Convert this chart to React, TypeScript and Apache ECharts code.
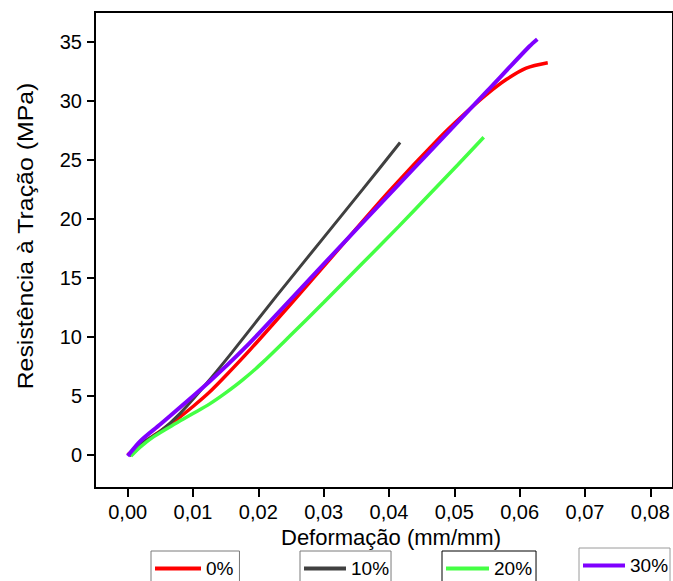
import React, { useEffect, useRef } from "react";
import * as echarts from "echarts";

// Data (strain mm/mm, stress MPa)
const strain0 = [0, 0.002, 0.005, 0.0075, 0.01, 0.0125, 0.015, 0.0189, 0.025, 0.031, 0.04, 0.048, 0.0522, 0.055, 0.058, 0.061, 0.0643];
const stress0 = [0, 0.9, 2.0, 3.0, 4.1, 5.3, 6.7, 9.0, 12.8, 16.6, 22.3, 27.0, 29.2, 30.55, 31.8, 32.75, 33.2];

const strain10 = [0.0003, 0.002, 0.005, 0.008, 0.012, 0.016, 0.0227, 0.03, 0.036, 0.0417];
const stress10 = [-0.1, 0.9, 2.0, 3.5, 6.0, 8.7, 13.4, 18.4, 22.5, 26.45];

const strain20 = [0.0005, 0.002, 0.004, 0.0074, 0.01, 0.0125, 0.015, 0.0176, 0.0205, 0.0247, 0.03, 0.0359, 0.0415, 0.0461, 0.0505, 0.0545];
const stress20 = [-0.1, 0.7, 1.55, 2.68, 3.5, 4.3, 5.25, 6.35, 7.75, 10.0, 12.9, 16.2, 19.35, 22.0, 24.55, 26.9];

const strain30 = [0, 0.002, 0.005, 0.0125, 0.018, 0.025, 0.035, 0.0415, 0.0461, 0.055, 0.0615, 0.0627];
const stress30 = [-0.1, 1.2, 2.6, 6.2, 9.1, 13.2, 19.1, 22.9, 25.6, 30.8, 34.6, 35.2];

const seriesNames = ["0%", "10%", "20%", "30%"];
const seriesColors = ["#ff0000", "#404040", "#44ff44", "#7f00ff"];
const seriesWidths = [3.5, 3, 3.5, 4];

const xTicks = [0, 0.01, 0.02, 0.03, 0.04, 0.05, 0.06, 0.07, 0.08];
const yTicks = [0, 5, 10, 15, 20, 25, 30, 35];

const xTitle = "Deformação (mm/mm)";
const yTitle = "Resistência à Tração (MPa)";

const FONT = "'Liberation Sans', Arial, Helvetica, sans-serif";

function pairs(xs: number[], ys: number[]) {
  return xs.map((x, i) => [x, ys[i]]);
}

export default function App() {
  const ref = useRef<HTMLDivElement>(null);

  useEffect(() => {
    document.body.style.margin = "0";
    if (!ref.current) return;
    const chart = echarts.init(ref.current, null, { renderer: "svg" });

    const datasets = [
      pairs(strain0, stress0),
      pairs(strain10, stress10),
      pairs(strain20, stress20),
      pairs(strain30, stress30),
    ];

    const legendLefts = [151, 300, 442, 579];
    const legendTops = [553, 553, 553, 550];
    const legendIconW = [46, 42, 43, 42];
    const legendPadR = [6, 2, 4, 2];
    const legendBorders = ["#7a7a7a", "#7a7a7a", "#000000", "#9a9a9a"];

    const option: any = {
      animation: false,
      backgroundColor: "#ffffff",
      grid: {
        left: 95,
        top: 12,
        right: -3,
        bottom: 93,
        show: true,
        borderColor: "#000",
        borderWidth: 2,
        backgroundColor: "transparent",
      },
      xAxis: {
        type: "value",
        min: -0.005,
        max: 0.08347,
        axisLine: { show: true, onZero: false, lineStyle: { color: "#000", width: 2 } },
        axisTick: { show: true, inside: false, length: 9, lineStyle: { color: "#000", width: 2 }, customValues: xTicks },
        axisLabel: {
          customValues: xTicks,
          margin: 14,
          color: "#000",
          fontSize: 20,
          fontFamily: FONT,
          formatter: (v: number) => v.toFixed(2).replace(".", ","),
        },
        splitLine: { show: false },
      },
      yAxis: {
        type: "value",
        min: -2.8,
        max: 37.5,
        axisLine: { show: true, onZero: false, lineStyle: { color: "#000", width: 2 } },
        axisTick: { show: true, inside: false, length: 8, lineStyle: { color: "#000", width: 2 }, customValues: yTicks },
        axisLabel: {
          customValues: yTicks,
          margin: 13,
          color: "#000",
          fontSize: 20,
          fontFamily: FONT,
          formatter: (v: number) => String(v),
        },
        splitLine: { show: false },
      },
      legend: seriesNames.map((n, i) => ({
        data: [n],
        left: legendLefts[i],
        top: legendTops[i] - 2,
        orient: "horizontal",
        borderColor: legendBorders[i],
        borderWidth: 1,
        padding: [8, legendPadR[i], 12, 4],
        itemWidth: legendIconW[i],
        itemHeight: 4,
        itemGap: 0,
        icon: "rect",
        selectedMode: false,
        textStyle: { color: "#000", fontSize: 19, lineHeight: 19, fontFamily: FONT },
        itemStyle: { color: seriesColors[i] },
      })),
      graphic: [
        {
          type: "text",
          x: 391,
          y: 537,
          style: {
            text: xTitle,
            fill: "#000",
            font: `22px ${FONT}`,
            align: "center",
            verticalAlign: "middle",
          },
        },
        {
          type: "text",
          x: 26,
          y: 236,
          rotation: Math.PI / 2,
          scaleX: 1.13,
          style: {
            text: yTitle,
            fill: "#000",
            font: `22px ${FONT}`,
            align: "center",
            verticalAlign: "middle",
          },
        },
      ],
      series: seriesNames.map((n, i) => ({
        name: n,
        type: "line",
        data: datasets[i],
        smooth: 0.3,
        symbol: "none",
        showSymbol: false,
        lineStyle: { color: seriesColors[i], width: seriesWidths[i] },
        itemStyle: { color: seriesColors[i] },
        z: 2 + i,
      })),
    };

    chart.setOption(option);
    return () => {
      chart.dispose();
    };
  }, []);

  return <div ref={ref} style={{ width: 673, height: 581 }} />;
}
